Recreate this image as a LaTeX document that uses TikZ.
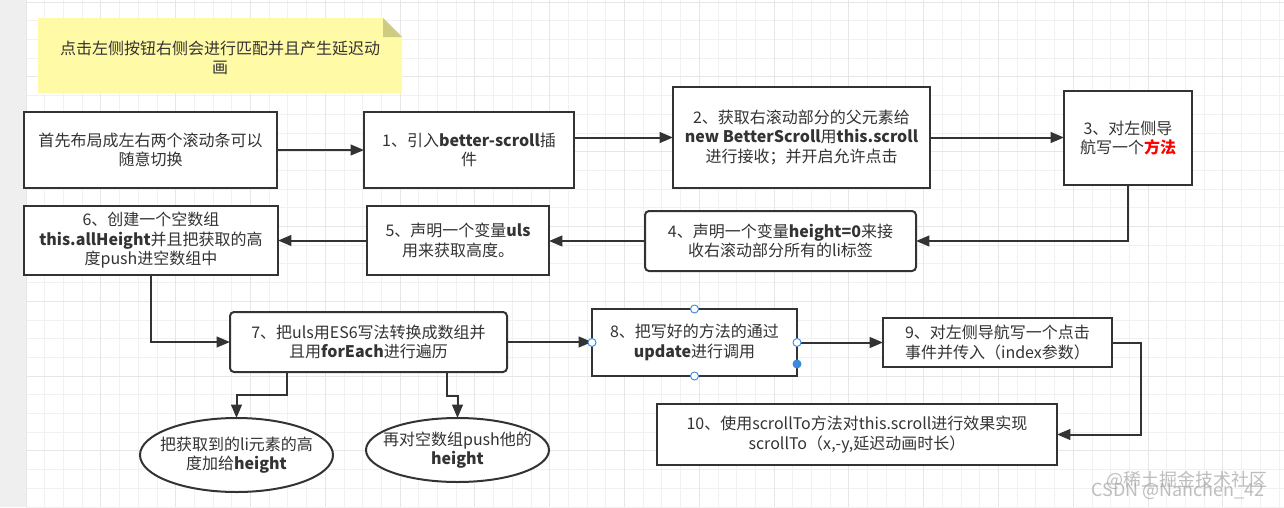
\documentclass[tikz,border=0pt]{standalone}
\usepackage{fontspec}
\setmainfont{Noto Sans CJK SC}
\usetikzlibrary{arrows.meta,shapes.geometric,calc}
\definecolor{lc}{HTML}{333333}
\definecolor{tc}{HTML}{333333}
\definecolor{notey}{RGB}{255,250,165}
\definecolor{notef}{RGB}{205,204,130}
\definecolor{gmin}{HTML}{F1F1F1}
\definecolor{gmaj}{HTML}{E6E6E6}
\definecolor{strip}{HTML}{EFEFEF}
\definecolor{hb}{HTML}{3B8AE0}
\definecolor{wm}{HTML}{A8A8A8}
\newcommand{\fs}{\fontsize{12}{14.6}\selectfont}
\tikzset{
  box/.style={draw=lc, line width=1.5pt, fill=white, text=tc, align=center, inner sep=0pt, outer sep=0pt, font=\fs},
  rbox/.style={box, rounded corners=3pt},
  ellbox/.style={draw=lc, line width=1.5pt, fill=white, ellipse, inner sep=0pt, outer sep=0pt},
  etext/.style={text=tc, align=center, inner sep=0pt, font=\fs},
  arr/.style={draw=lc, line width=1.5pt, -{Triangle[length=10pt,width=8pt]}},
  handle/.style={circle, draw=hb, fill=white, line width=0.7pt, minimum size=6pt, inner sep=0pt},
  handlef/.style={circle, draw=hb, fill=hb, line width=0.7pt, minimum size=6pt, inner sep=0pt},
  wmark/.style={text=wm, opacity=0.75, inner sep=0pt, font=\fontsize{13.5}{15}\selectfont},
}
\begin{document}
\begin{tikzpicture}[x=0.75pt,y=-0.75pt]
\useasboundingbox (0,0) rectangle (1284,507);
% background
\fill[white] (0,0) rectangle (1284,507);
\foreach \i in {0,...,67} {
  \pgfmathsetmacro\xx{26+18.7*\i}
  \draw[gmin, line width=0.6pt] (\xx,0) -- (\xx,507);
}
\foreach \i in {0,...,27} {
  \pgfmathsetmacro\yy{2+18.7*\i}
  \draw[gmin, line width=0.6pt] (26,\yy) -- (1284,\yy);
}
\foreach \i in {0,...,16} {
  \pgfmathsetmacro\xx{26+74.8*\i}
  \draw[gmaj, line width=0.7pt] (\xx,0) -- (\xx,507);
}
\foreach \i in {0,...,6} {
  \pgfmathsetmacro\yy{2+74.8*\i}
  \draw[gmaj, line width=0.7pt] (26,\yy) -- (1284,\yy);
}
\fill[strip] (0,0) rectangle (26,507);

% note
\fill[notey] (38,18) -- (383,18) -- (402,37) -- (402,93) -- (38,93) -- cycle;
\fill[notef] (383,18) -- (402,37) -- (383,37) -- cycle;
\node[etext] (note) at (220,58) {点击左侧按钮右侧会进行匹配并且产生延迟动\\画};

% boxes
\node[box, minimum width=189.75pt, minimum height=57pt] (b0) at (150.5,150) {首先布局成左右两个滚动条可以\\随意切换};
\node[box, minimum width=157.5pt, minimum height=57pt] (b1) at (469,150) {1、引入\textbf{better-scroll}插\\件};
\node[box, minimum width=192.75pt, minimum height=75.75pt] (b2) at (801.5,137.5) {2、获取右滚动部分的父元素给\\\textbf{new BetterScroll}用\textbf{this.scroll}\\进行接收；并开启允许点击};
\node[box, minimum width=96pt, minimum height=70.5pt] (b3) at (1128,138) {3、对左侧导\\航写一个\textcolor{red}{\textbf{方法}}};
\node[rbox, minimum width=203.25pt, minimum height=45pt] (b4) at (780.5,241) {4、声明一个变量\textbf{height=0}来接\\收右滚动部分所有的li标签};
\node[box, minimum width=136.5pt, minimum height=51.75pt] (b5) at (458,240.5) {5、声明一个变量\textbf{uls}\\用来获取高度。};
\node[box, minimum width=190.5pt, minimum height=51.75pt] (b6) at (151,240.5) {6、创建一个空数组\\\textbf{this.allHeight}并且把获取的高\\度push进空数组中};
\node[rbox, minimum width=207.75pt, minimum height=45pt] (b7) at (368.5,342) {7、把uls用ES6写法转换成数组并\\且用\textbf{forEach}进行遍历};
\node[box, minimum width=153.75pt, minimum height=50.25pt] (b8) at (694.5,342.5) {8、把写好的方法的通过\\\textbf{update}进行调用};
\node[box, minimum width=171.75pt, minimum height=36.75pt] (b9) at (997.5,342.5) {9、对左侧导航写一个点击\\事件并传入（index参数）};
\node[box, minimum width=300pt, minimum height=45.75pt] (b10) at (857,434.5) {10、使用scrollTo方法对this.scroll进行效果实现\\scrollTo（x,-y,延迟动画时长）};

% ellipses
\node[ellbox, minimum width=144.75pt, minimum height=55.5pt] (e1) at (236.5,455) {};
\node[etext] (e1t) at (236.5,455) {把获取到的li元素的高\\度加给\textbf{height}};
\node[ellbox, minimum width=137.25pt, minimum height=48pt] (e2) at (457.5,450) {};
\node[etext] (e2t) at (457.5,450) {再对空数组push他的\\\textbf{height}};

% connectors
\draw[arr] (b0.east) -- (b1.west);
\draw[arr] (b1.east |- b2.west) -- (b2.west);
\draw[arr] (b2.east) -- (b3.west |- b2.east);
\draw[arr] (b3.south) |- (b4.east);
\draw[arr] (b4.west) -- (b5.east |- b4.west);
\draw[arr] (b5.west) -- (b6.east);
\draw[arr] (b6.south) |- (b7.west);
\draw[arr] (b7.east) -- (b8.west |- b7.east);
\draw[arr] (b8.east) -- (b9.west);
\coordinate (t9) at (1141,434.5);
\draw[arr] (b9.east) -| (t9) -- (b10.east);
\coordinate (k1) at (287,395);
\draw[arr] (b7.south -| k1) -- (k1) -| (e1.north);
\coordinate (k2) at (447,396);
\draw[arr] (b7.south -| k2) -- (k2) -| (e2.north);

% selection handles on box 8
\node[handle] (h1) at (b8.north) {};
\node[handle] (h2) at (b8.south) {};
\node[handle] (h3) at (b8.west) {};
\node[handle] (h4) at (b8.east) {};
\node[handlef] (h5) at ($(b8.south east)+(0,-12)$) {};

% watermark
\node[wmark] (w1) at (1187,480) {@稀土掘金技术社区};
\node[wmark] (w2) at (1178,491) {CSDN @Nanchen\_42};
\end{tikzpicture}
\end{document}
